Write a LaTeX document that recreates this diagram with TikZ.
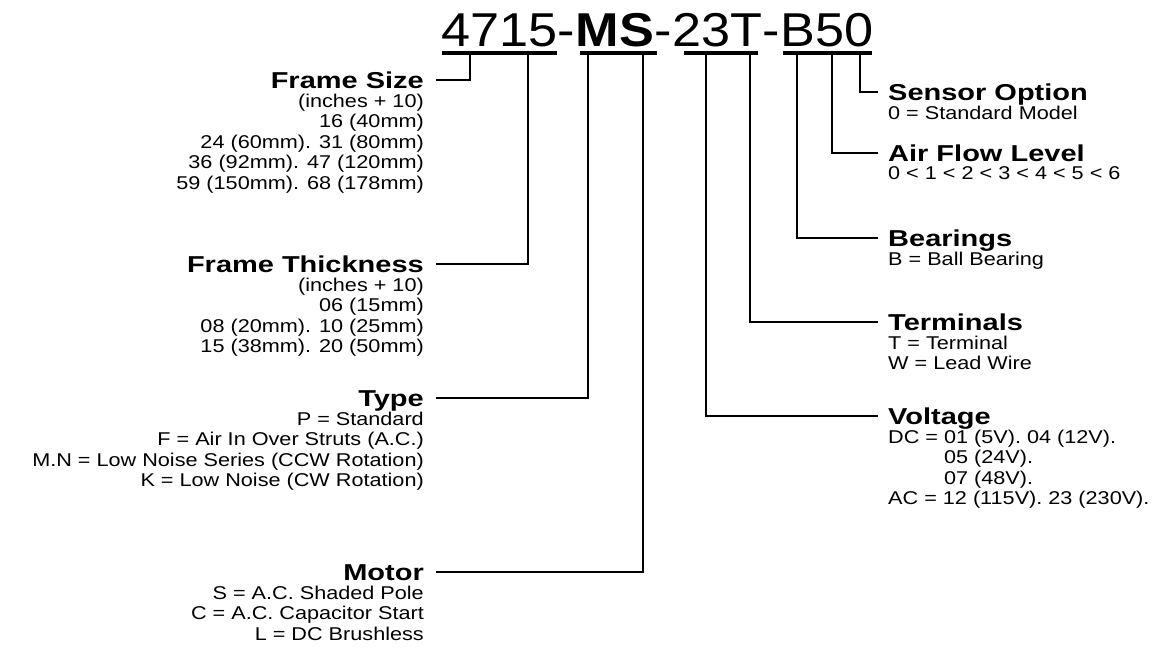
\documentclass[tikz,border=0pt]{standalone}
\usepackage{fontspec}
\setmainfont{Liberation Sans}
\newfontfamily\codefont[FakeStretch=1.1]{Liberation Sans}
\newfontfamily\headfont[FakeStretch=1.26]{Liberation Sans}
\newfontfamily\bodyfont[FakeStretch=1.17]{Liberation Sans}
\usetikzlibrary{positioning}

\tikzset{
  code/.style={font=\codefont\fontsize{47.5}{50}\selectfont, inner sep=0pt, anchor=base west},
  head/.style={font=\headfont\fontsize{23}{26}\selectfont\bfseries, inner sep=0pt, text height=16.5pt, text depth=0pt},
  body/.style={font=\bodyfont\fontsize{18.5}{20.5}\selectfont, inner sep=0pt},
  bar/.style={line width=4pt},
  lead/.style={line width=1.3pt}
}

\begin{document}
\begin{tikzpicture}[x=1pt, y=-1pt]
  \useasboundingbox (0,0) rectangle (1155,661);

  % part number
  \node[code] (n1) at (441,46) {4715};
  \node[code] (d1) at (n1.base east) {-};
  \node[code] (n2) at (d1.base east) {\bfseries MS};
  \node[code] (d2) at (n2.base east) {-};
  \node[code] (n3) at (d2.base east) {23T};
  \node[code] (d3) at (n3.base east) {-};
  \node[code] (n4) at (d3.base east) {B50};

  \draw[bar] (442,53) -- (557,53);
  \draw[bar] (580,53) -- (657,53);
  \draw[bar] (684,53) -- (758,53);
  \draw[bar] (783,53) -- (872,53);

  % taps on the bars
  \coordinate (fsize) at (470,53);
  \coordinate (fthick) at (528,53);
  \coordinate (ftype) at (588,53);
  \coordinate (motor) at (643,53);
  \coordinate (volt) at (706,53);
  \coordinate (term) at (750,53);
  \coordinate (bear) at (797,53);
  \coordinate (flow) at (832,53);
  \coordinate (sens) at (860,53);

  % left column
  \node[head, anchor=east] (fs) at (424,80) {Frame Size};
  \node[body, align=right, below left=5pt and 0pt of fs.south east] (fsb)
    {(inches + 10)\\16 (40mm)\\24 (60mm). 31 (80mm)\\36 (92mm). 47 (120mm)\\59 (150mm). 68 (178mm)};
  \draw[lead] ([xshift=12pt]fs.east) -| (fsize);

  \node[head, anchor=east] (ft) at (424,264) {Frame Thickness};
  \node[body, align=right, below left=5pt and 0pt of ft.south east] (ftb)
    {(inches + 10)\\06 (15mm)\\08 (20mm). 10 (25mm)\\15 (38mm). 20 (50mm)};
  \draw[lead] ([xshift=12pt]ft.east) -| (fthick);

  \node[head, anchor=east] (ty) at (424,398) {Type};
  \node[body, align=right, below left=5pt and 0pt of ty.south east] (tyb)
    {P = Standard\\F = Air In Over Struts (A.C.)\\M.N = Low Noise Series (CCW Rotation)\\K = Low Noise (CW Rotation)};
  \draw[lead] ([xshift=12pt]ty.east) -| (ftype);

  \node[head, anchor=east] (mo) at (424,572) {Motor};
  \node[body, align=right, below left=5pt and 0pt of mo.south east] (mob)
    {S = A.C. Shaded Pole\\C = A.C. Capacitor Start\\L = DC Brushless};
  \draw[lead] ([xshift=12pt]mo.east) -| (motor);

  % right column
  \node[head, anchor=west] (so) at (888,92) {Sensor Option};
  \node[body, align=left, below right=5pt and 0pt of so.south west] (sob)
    {0 = Standard Model};
  \draw[lead] ([xshift=-10pt]so.west) -| (sens);

  \node[head, anchor=west] (af) at (888,153) {Air Flow Level};
  \node[body, align=left, below right=5pt and 0pt of af.south west] (afb)
    {0 < 1 < 2 < 3 < 4 < 5 < 6};
  \draw[lead] ([xshift=-10pt]af.west) -| (flow);

  \node[head, anchor=west] (br) at (888,238) {Bearings};
  \node[body, align=left, below right=5pt and 0pt of br.south west] (brb)
    {B = Ball Bearing};
  \draw[lead] ([xshift=-10pt]br.west) -| (bear);

  \node[head, anchor=west] (te) at (888,322) {Terminals};
  \node[body, align=left, below right=5pt and 0pt of te.south west] (teb)
    {T = Terminal\\W = Lead Wire};
  \draw[lead] ([xshift=-10pt]te.west) -| (term);

  \node[head, anchor=west] (vo) at (888,416) {Voltage};
  \node[body, align=left, below right=5pt and 0pt of vo.south west] (vob)
    {DC = 01 (5V). 04 (12V).\\\phantom{DC = }05 (24V).\\\phantom{DC = }07 (48V).\\AC = 12 (115V). 23 (230V).};
  \draw[lead] ([xshift=-10pt]vo.west) -| (volt);
\end{tikzpicture}
\end{document}
